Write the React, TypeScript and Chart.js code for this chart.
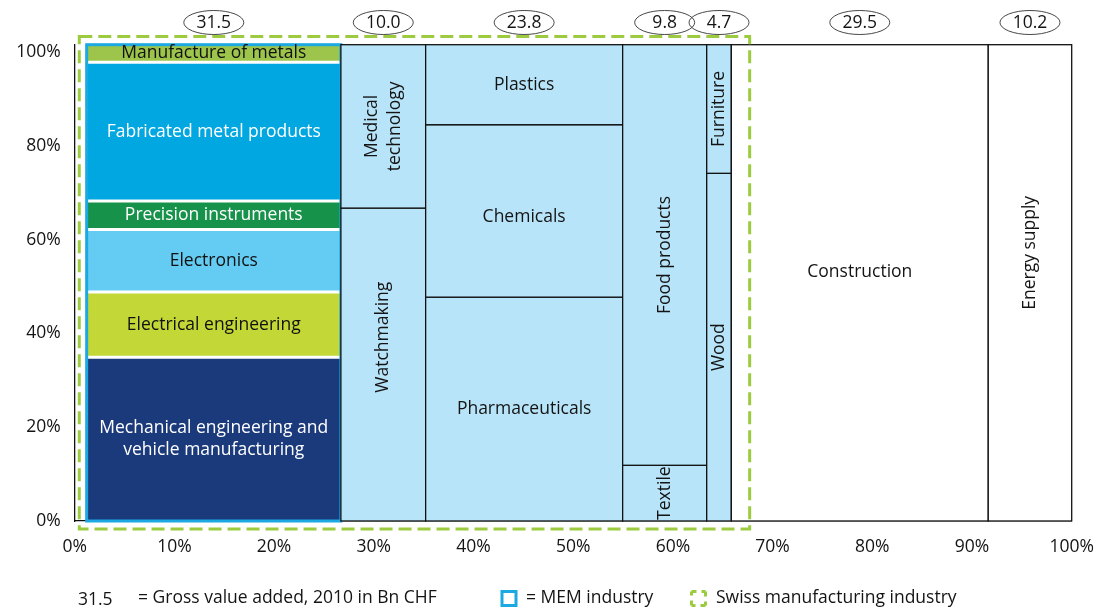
import React, { useEffect, useRef } from "react";
import { Chart, registerables } from "chart.js";

Chart.register(...registerables);

const FONT = '"Open Sans", "Noto Sans", sans-serif';

// Gross value added 2010 (Bn CHF) per column, shown in the ellipses
const columnValues = [31.5, 10.0, 23.8, 9.8, 4.7, 29.5, 10.2];
// Column boundaries along the x axis (% share)
const columnEdges = [1.2, 26.7, 35.2, 54.96, 63.39, 65.86, 91.63, 100];

// Segments per column, bottom to top, with their share of the column (%)
const memNames = [
  "Mechanical engineering and\nvehicle manufacturing",
  "Electrical engineering",
  "Electronics",
  "Precision instruments",
  "Fabricated metal products",
  "Manufacture of metals",
];
const memShares = [34.4, 13.7, 13.1, 6.0, 29.1, 3.7];

const watchNames = ["Watchmaking", "Medical\ntechnology"];
const watchShares = [65.7, 34.3];

const chemNames = ["Pharmaceuticals", "Chemicals", "Plastics"];
const chemShares = [47.0, 36.2, 16.8];

const foodNames = ["Textile", "Food products"];
const foodShares = [11.7, 88.3];

const woodNames = ["Wood", "Furniture"];
const woodShares = [73.0, 27.0];

const constructionNames = ["Construction"];
const constructionShares = [100];

const energyNames = ["Energy supply"];
const energyShares = [100];

const xTickValues = [0, 10, 20, 30, 40, 50, 60, 70, 80, 90, 100];
const yTickValues = [0, 20, 40, 60, 80, 100];

// Outline of the Swiss manufacturing industry (axis units)
const manufBox = { x0: 0.46, x1: 67.7, y0: -1.7, y1: 101.7 };

// ---- styles ----
const memFills = ["#1B3A7C", "#C3D836", "#64CCF2", "#16924A", "#00A7E1", "#9DC54B"];
const memTextColors = ["#ffffff", "#111111", "#111111", "#ffffff", "#ffffff", "#111111"];
const paleFill = "#B7E4F8";
const whiteCells = new Set(["Construction", "Energy supply"]);
const rotated = new Set([
  "Watchmaking",
  "Medical\ntechnology",
  "Food products",
  "Textile",
  "Wood",
  "Furniture",
  "Energy supply",
]);
const labelYOverride: Record<string, number> = {
  Watchmaking: 38.6,
  Chemicals: 63.8,
  Construction: 52.3,
  "Energy supply": 56.3,
};
const MEM_BLUE = "#1CA9E2";
const DASH_GREEN = "#9CCB40";
const TEXT = "#141414";
const FS = 17.5;

const columns = [
  { names: memNames, shares: memShares, mem: true },
  { names: watchNames, shares: watchShares, mem: false },
  { names: chemNames, shares: chemShares, mem: false },
  { names: foodNames, shares: foodShares, mem: false },
  { names: woodNames, shares: woodShares, mem: false },
  { names: constructionNames, shares: constructionShares, mem: false },
  { names: energyNames, shares: energyShares, mem: false },
];

function drawLabel(ctx: CanvasRenderingContext2D, text: string, cx: number, cy: number, rot: boolean, color: string) {
  const lines = text.split("\n");
  const lh = rot ? 23 : 22;
  ctx.save();
  ctx.translate(cx, cy);
  if (rot) ctx.rotate(-Math.PI / 2);
  ctx.fillStyle = color;
  ctx.font = `${FS}px ${FONT}`;
  ctx.textAlign = "center";
  ctx.textBaseline = "middle";
  lines.forEach((ln, i) => {
    ctx.fillText(ln, 0, (i - (lines.length - 1) / 2) * lh);
  });
  ctx.restore();
}

const marimekko = {
  id: "marimekko",
  beforeDatasetsDraw(chart: any) {
    const { ctx } = chart;
    const xs = chart.scales.x;
    const ys = chart.scales.y;
    columns.forEach((col, ci) => {
      const x0 = xs.getPixelForValue(columnEdges[ci]);
      const x1 = xs.getPixelForValue(columnEdges[ci + 1]);
      let cum = 0;
      const bounds: number[] = [];
      col.shares.forEach((s, si) => {
        const yb = ys.getPixelForValue(cum);
        const yt = ys.getPixelForValue(cum + s);
        cum += s;
        if (si < col.shares.length - 1) bounds.push(yt);
        ctx.save();
        if (col.mem) {
          ctx.fillStyle = memFills[si];
          ctx.fillRect(x0, yt, x1 - x0, yb - yt);
        } else {
          ctx.fillStyle = whiteCells.has(col.names[si]) ? "#ffffff" : paleFill;
          ctx.fillRect(x0, yt, x1 - x0, yb - yt);
          ctx.strokeStyle = "#111";
          ctx.lineWidth = 1.3;
          ctx.strokeRect(x0, yt, x1 - x0, yb - yt);
        }
        ctx.restore();
      });
      if (col.mem) {
        ctx.save();
        ctx.strokeStyle = "#ffffff";
        ctx.lineWidth = 3;
        bounds.forEach((b) => {
          ctx.beginPath();
          ctx.moveTo(x0, b);
          ctx.lineTo(x1, b);
          ctx.stroke();
        });
        ctx.strokeStyle = MEM_BLUE;
        ctx.lineWidth = 3;
        const yTop = ys.getPixelForValue(100);
        const yBot = ys.getPixelForValue(0);
        ctx.strokeRect(x0, yTop, x1 - x0, yBot - yTop);
        ctx.restore();
      }
    });
  },
  afterDraw(chart: any) {
    const { ctx } = chart;
    const xs = chart.scales.x;
    const ys = chart.scales.y;
    // labels
    columns.forEach((col, ci) => {
      const x0 = xs.getPixelForValue(columnEdges[ci]);
      const x1 = xs.getPixelForValue(columnEdges[ci + 1]);
      const cx = (x0 + x1) / 2;
      let cum = 0;
      col.shares.forEach((s, si) => {
        const name = col.names[si];
        const mid = labelYOverride[name] !== undefined ? labelYOverride[name] : cum + s / 2;
        cum += s;
        const cy = ys.getPixelForValue(mid);
        const color = col.mem ? memTextColors[si] : TEXT;
        drawLabel(ctx, name, cx, cy, rotated.has(name), color);
      });
      // ellipse with value
      ctx.save();
      ctx.beginPath();
      ctx.ellipse(cx, 22.5, 30, 12, 0, 0, Math.PI * 2);
      ctx.strokeStyle = "#333";
      ctx.lineWidth = 0.9;
      ctx.stroke();
      ctx.fillStyle = TEXT;
      ctx.font = `${FS}px ${FONT}`;
      ctx.textAlign = "center";
      ctx.textBaseline = "middle";
      ctx.fillText(columnValues[ci].toFixed(1), cx, 23);
      ctx.restore();
    });

    // dashed manufacturing outline
    ctx.save();
    ctx.strokeStyle = DASH_GREEN;
    ctx.lineWidth = 3;
    ctx.setLineDash([13, 6]);
    const bx0 = xs.getPixelForValue(manufBox.x0);
    const bx1 = xs.getPixelForValue(manufBox.x1);
    const by0 = ys.getPixelForValue(manufBox.y1);
    const by1 = ys.getPixelForValue(manufBox.y0);
    ctx.strokeRect(bx0, by0, bx1 - bx0, by1 - by0);
    ctx.restore();

    // legend
    const ly = 598;
    ctx.save();
    ctx.fillStyle = TEXT;
    ctx.font = `${FS}px ${FONT}`;
    ctx.textAlign = "left";
    ctx.textBaseline = "middle";
    ctx.fillText(columnValues[0].toFixed(1), 78, ly + 2);
    ctx.fillText("= Gross value added, 2010 in Bn CHF", 138, ly);
    ctx.strokeStyle = MEM_BLUE;
    ctx.lineWidth = 3;
    ctx.strokeRect(502, 591.5, 14, 14);
    ctx.fillText("= MEM industry", 526, ly);
    ctx.strokeStyle = DASH_GREEN;
    ctx.setLineDash([5, 5]);
    const gx = 691.5, gy = 591.5, gs = 14;
    const sides: [number, number, number, number][] = [
      [gx, gy, gx + gs, gy],
      [gx + gs, gy, gx + gs, gy + gs],
      [gx + gs, gy + gs, gx, gy + gs],
      [gx, gy + gs, gx, gy],
    ];
    sides.forEach(([a, b, c, d]) => {
      ctx.beginPath();
      ctx.moveTo(a, b);
      ctx.lineTo(c, d);
      ctx.stroke();
    });
    ctx.setLineDash([]);
    ctx.fillText("Swiss manufacturing industry", 716, ly);
    ctx.restore();
  },
};

export default function App() {
  const ref = useRef<HTMLCanvasElement>(null);
  useEffect(() => {
    Chart.defaults.font.family = FONT;
    const chart = new Chart(ref.current as HTMLCanvasElement, {
      type: "scatter",
      data: { datasets: [] },
      options: {
        animation: false,
        responsive: false,
        maintainAspectRatio: false,
        devicePixelRatio: 1,
        layout: { padding: { left: 0, top: 44.7, right: 37.3, bottom: 0 } },
        plugins: { legend: { display: false }, tooltip: { enabled: false } },
        scales: {
          x: {
            type: "linear",
            min: 0,
            max: 100,
            grid: { display: false, drawTicks: false },
            border: { display: true, color: "#111", width: 1.3 },
            afterBuildTicks: (s: any) => {
              s.ticks = xTickValues.map((v) => ({ value: v }));
            },
            afterFit: (s: any) => {
              s.height = 88;
              s.paddingLeft = 0;
              s.paddingRight = 0;
            },
            ticks: {
              autoSkip: false,
              maxRotation: 0,
              padding: 16,
              color: TEXT,
              font: { size: FS, family: FONT },
              callback: (v: any) => `${v}%`,
            },
          },
          y: {
            type: "linear",
            min: 0,
            max: 100,
            display: false,
          },
          yt: {
            type: "linear",
            position: "left",
            min: 0,
            max: 101.56,
            grid: { display: false, drawTicks: false },
            border: { display: true, color: "#111", width: 1.3 },
            afterBuildTicks: (s: any) => {
              s.ticks = yTickValues.map((v) => ({ value: v }));
            },
            afterFit: (s: any) => {
              s.width = 74.7;
              s.paddingTop = 0;
              s.paddingBottom = 0;
            },
            ticks: {
              padding: 14,
              color: TEXT,
              font: { size: FS, family: FONT },
              callback: (v: any) => `${v}%`,
            },
          },
        },
      } as any,
      plugins: [marimekko as any],
    });
    return () => chart.destroy();
  }, []);
  return (
    <div style={{ position: "fixed", left: 0, top: 0, width: 1109, height: 609, background: "#fff" }}>
      <canvas ref={ref} width={1109} height={609} style={{ display: "block" }} />
    </div>
  );
}
